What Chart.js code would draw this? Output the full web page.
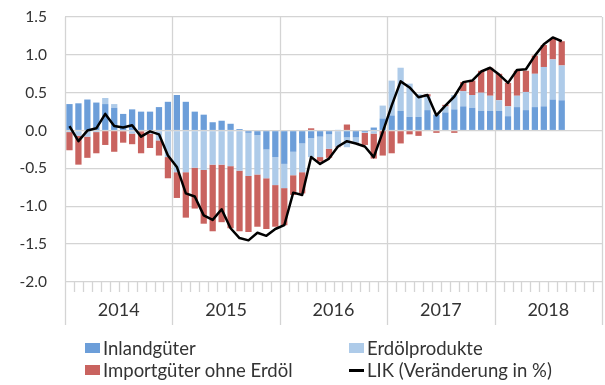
<!DOCTYPE html>
<html>
<head>
<meta charset="utf-8">
<script src="https://cdn.jsdelivr.net/npm/chart.js@4.4.1/dist/chart.umd.min.js"></script>
<style>
  body { margin: 0; background: #fff; }
  #wrap { position: relative; width: 605px; height: 385px; overflow: hidden; }
  #c { position: absolute; left: 0; top: 0; }
  .item { position: absolute; white-space: nowrap; font-family: Lato, sans-serif; font-size: 18.5px; color: #333; line-height: 20px; }
  .sw { position: absolute; }
</style>
</head>
<body>
<div id="wrap">
  <canvas id="c" width="605" height="385"></canvas>
  <div id="legend"></div>
</div>
<script>
// Years shown on the time axis; one category per month
const years = ['2014', '2015', '2016', '2017', '2018'];
const months = years.flatMap(y => ['01','02','03','04','05','06','07','08','09','10','11','12'].map(m => y + '-' + m));

const seriesNames = ['Inlandgüter', 'Erdölprodukte', 'Importgüter ohne Erdöl', 'LIK (Veränderung in %)'];

// Contributions in percentage points, Jan 2014 – Aug 2018
const inland = [
  0.35, 0.36, 0.41, 0.37, 0.35, 0.30, 0.22, 0.28, 0.25, 0.25, 0.31, 0.38,
  0.47, 0.38, 0.25, 0.21, 0.11, 0.13, 0.09, 0.02, -0.03, -0.06, -0.25, -0.35,
  -0.44, -0.28, -0.17, -0.10, -0.08, -0.05, 0.01, -0.09, -0.09, -0.02, 0.04, 0.16,
  0.20, 0.26, 0.18, 0.18, 0.27, 0.21, 0.24, 0.28, 0.32, 0.30, 0.26, 0.26,
  0.26, 0.19, 0.31, 0.27, 0.31, 0.32, 0.41, 0.40
];
const erdoel = [
  -0.02, -0.07, -0.08, -0.02, 0.08, 0.05, -0.01, -0.04, -0.01, -0.04, -0.13, -0.35,
  -0.55, -0.55, -0.49, -0.52, -0.45, -0.45, -0.47, -0.53, -0.57, -0.52, -0.38, -0.37,
  -0.32, -0.31, -0.38, -0.25, -0.27, -0.19, -0.21, -0.13, -0.07, -0.01, -0.04, 0.17,
  0.46, 0.57, 0.44, 0.30, 0.18, 0.00, 0.08, 0.19, 0.20, 0.17, 0.24, 0.20,
  0.14, 0.13, 0.15, 0.24, 0.44, 0.52, 0.53, 0.46
];
const importOhneErdoel = [
  -0.24, -0.38, -0.28, -0.28, -0.19, -0.28, -0.15, -0.14, -0.29, -0.19, -0.20, -0.28,
  -0.34, -0.60, -0.54, -0.71, -0.88, -0.76, -0.82, -0.80, -0.74, -0.69, -0.67, -0.55,
  -0.49, -0.26, -0.28, 0.03, -0.06, -0.12, -0.01, 0.08, -0.01, -0.16, -0.33, -0.33,
  -0.30, -0.17, -0.05, -0.07, 0.03, -0.03, 0.02, -0.03, 0.12, 0.19, 0.29, 0.37,
  0.35, 0.31, 0.33, 0.28, 0.24, 0.29, 0.27, 0.32
];
// Year-on-year change of the consumer price index, %
const lik = [
  0.06, -0.14, 0.00, 0.03, 0.22, 0.06, 0.04, 0.07, -0.08, -0.01, -0.05, -0.33,
  -0.48, -0.83, -0.87, -1.12, -1.18, -1.04, -1.29, -1.42, -1.45, -1.35, -1.39, -1.30,
  -1.25, -0.82, -0.85, -0.35, -0.44, -0.37, -0.21, -0.14, -0.17, -0.21, -0.35, -0.02,
  0.33, 0.65, 0.57, 0.44, 0.47, 0.20, 0.33, 0.45, 0.64, 0.66, 0.78, 0.83,
  0.74, 0.63, 0.80, 0.81, 0.99, 1.14, 1.23, 1.18
];

const yMin = -2.0, yMax = 1.5, yStep = 0.5;

const colors = ['#6c9ed9', '#aecbe9', '#c9635f', '#000000'];
const gridColor = '#d4d4d4';
const textColor = '#333333';

// Year separators, month ticks and year labels under the plot
const axisDecor = {
  id: 'axisDecor',
  beforeDatasetsDraw(chart) {
    const { ctx, chartArea: a, scales: { x } } = chart;
    ctx.save();
    ctx.strokeStyle = gridColor;
    ctx.lineWidth = 1.3;
    for (let i = 0; i <= months.length; i++) {
      const px = Math.round(x.getPixelForValue(i - 0.5)) + 0.5;
      const edge = i % 12 === 0;
      ctx.beginPath();
      ctx.moveTo(px, edge ? a.top : a.bottom);
      ctx.lineTo(px, edge ? a.bottom + 43 : a.bottom + 10);
      ctx.stroke();
    }
    ctx.fillStyle = textColor;
    ctx.font = '18px Lato';
    ctx.textAlign = 'center';
    ctx.textBaseline = 'middle';
    years.forEach((yr, k) => {
      const cx = (x.getPixelForValue(k * 12 - 0.5) + x.getPixelForValue(k * 12 + 11.5)) / 2;
      ctx.fillText(yr, cx, a.bottom + 28);
    });
    ctx.restore();
  }
};

const barCommon = { type: 'bar', order: 1, stack: 'beitraege', barPercentage: 0.7, categoryPercentage: 1.0, borderWidth: 0 };

new Chart(document.getElementById('c'), {
  data: {
    labels: months,
    datasets: [
      { ...barCommon, label: seriesNames[0], data: inland, backgroundColor: colors[0] },
      { ...barCommon, label: seriesNames[1], data: erdoel, backgroundColor: colors[1] },
      { ...barCommon, label: seriesNames[2], data: importOhneErdoel, backgroundColor: colors[2] },
      { type: 'line', order: 0, stack: 'lik', label: seriesNames[3], data: lik,
        borderColor: colors[3], borderWidth: 2.5, pointRadius: 0, tension: 0,
        borderJoinStyle: 'round', fill: false }
    ]
  },
  options: {
    responsive: false,
    animation: false,
    devicePixelRatio: 1,
    layout: { padding: { top: 17, right: 3, left: 0, bottom: 0 } },
    plugins: { legend: { display: false }, tooltip: { enabled: false } },
    scales: {
      x: {
        stacked: true,
        offset: true,
        grid: { display: false },
        border: { display: false },
        ticks: { display: false },
        afterFit(s) { s.height = 103; }
      },
      y: {
        stacked: true,
        min: yMin, max: yMax,
        grid: { color: gridColor, lineWidth: 1.3, drawTicks: false },
        border: { display: false },
        ticks: {
          stepSize: yStep,
          padding: 18,
          color: textColor,
          font: { family: 'Lato', size: 15.5 },
          callback: v => v.toFixed(1)
        },
        afterFit(s) {
          s.width = 65;
          s.paddingTop = 0;
          s.paddingBottom = 0;
        }
      }
    }
  },
  plugins: [axisDecor]
});

// Legend in two rows and two columns
const legend = document.getElementById('legend');
const slots = [[85, 348], [349, 348], [85, 370], [349, 370]];
seriesNames.forEach((name, i) => {
  const [lx, ly] = slots[i];
  const sw = document.createElement('div');
  sw.className = 'sw';
  if (i < 3) {
    Object.assign(sw.style, { left: lx + 'px', top: (ly - 5) + 'px', width: '15px', height: '10px', background: colors[i] });
  } else {
    Object.assign(sw.style, { left: lx + 'px', top: (ly - 1.5) + 'px', width: '15px', height: '3px', background: colors[i] });
  }
  legend.appendChild(sw);
  const t = document.createElement('div');
  t.className = 'item';
  t.textContent = name;
  Object.assign(t.style, { left: (lx + 18) + 'px', top: (ly - 10) + 'px' });
  legend.appendChild(t);
});
</script>
</body>
</html>
